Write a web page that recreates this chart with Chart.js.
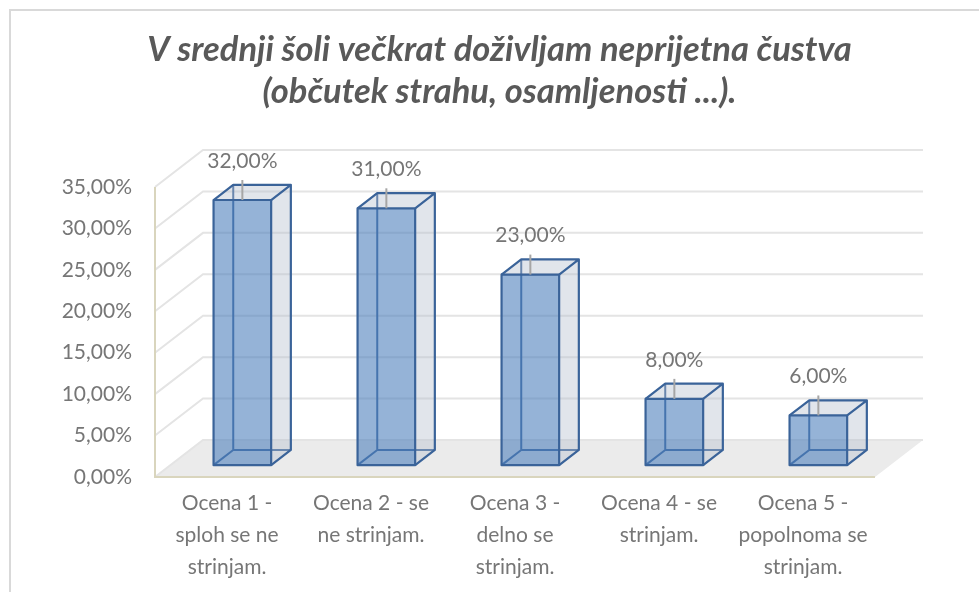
<!DOCTYPE html>
<html>
<head>
<meta charset="utf-8">
<script src="https://cdn.jsdelivr.net/npm/chart.js@4.4.0/dist/chart.umd.min.js"></script>
<style>
  html, body { margin: 0; padding: 0; background: #fff; overflow: hidden; }
  #wrap { position: relative; width: 979px; height: 592px; }
  #okvir { position: absolute; left: 9px; top: 9px; width: 1100px; height: 700px; border: 2px solid #d9d9d9; }
  canvas { position: absolute; left: 0; top: 0; }
</style>
</head>
<body>
<div id="wrap">
  <div id="okvir"></div>
  <canvas id="canvas" width="979" height="592"></canvas>
</div>
<script>
/* podatki */
var naslov = ['V srednji šoli večkrat doživljam neprijetna čustva', '(občutek strahu, osamljenosti ...).'];
var kategorije = [
  ['Ocena 1 -', 'sploh se ne', 'strinjam.'],
  ['Ocena 2 - se', 'ne strinjam.'],
  ['Ocena 3 -', 'delno se', 'strinjam.'],
  ['Ocena 4 - se', 'strinjam.'],
  ['Ocena 5 -', 'popolnoma se', 'strinjam.']
];
var odstotki = [32, 31, 23, 8, 6];
var osMin = 0, osMax = 35, osKorak = 5;

function procent(v) {
  return Number(v).toFixed(2).replace('.', ',') + '%';
}

/* 3D izgled (kot v Excelu) */
var globina = { dx: 48, dy: -37, spredaj: 0.32, zadaj: 0.73 };

var plugin3d = {
  id: 'plugin3d',
  beforeDatasetsDraw: function(chart) {
    var ctx = chart.ctx, a = chart.chartArea, y = chart.scales.y;
    var L = a.left, R = a.right, B = a.bottom, dx = globina.dx, dy = globina.dy;
    ctx.save();
    // tla
    ctx.fillStyle = '#ebebeb';
    ctx.beginPath();
    ctx.moveTo(L, B); ctx.lineTo(R, B); ctx.lineTo(R + dx, B + dy); ctx.lineTo(L + dx, B + dy);
    ctx.closePath(); ctx.fill();
    // mreza na stenah
    ctx.strokeStyle = '#e4e4e4'; ctx.lineWidth = 2;
    y.ticks.forEach(function(t) {
      var py = y.getPixelForValue(t.value);
      ctx.beginPath();
      ctx.moveTo(L, py); ctx.lineTo(L + dx, py + dy); ctx.lineTo(R + dx, py + dy);
      ctx.stroke();
    });
    // osi
    ctx.strokeStyle = '#d9d5bd'; ctx.lineWidth = 2;
    ctx.beginPath();
    ctx.moveTo(L, a.top); ctx.lineTo(L, B); ctx.lineTo(R, B);
    ctx.stroke();
    ctx.restore();
  },
  afterDatasetsDraw: function(chart) {
    var ctx = chart.ctx, meta = chart.getDatasetMeta(0);
    var dx = globina.dx, dy = globina.dy;
    var fx = dx * globina.spredaj, fy = dy * globina.spredaj;
    var bx = dx * (globina.zadaj - globina.spredaj), by = dy * (globina.zadaj - globina.spredaj);
    ctx.save();
    ctx.lineJoin = 'round';
    meta.data.forEach(function(el, i) {
      var p = el.getProps(['x', 'y', 'base', 'width'], true);
      var x0 = p.x - p.width / 2 + fx, x1 = p.x + p.width / 2 + fx;
      var yT = p.y + fy, yB = p.base + fy;

      // skriti robovi
      ctx.strokeStyle = '#3a6399'; ctx.lineWidth = 2;
      ctx.beginPath();
      ctx.moveTo(x0 + bx, yT + by); ctx.lineTo(x0 + bx, yB + by); ctx.lineTo(x1 + bx, yB + by);
      ctx.moveTo(x0, yB); ctx.lineTo(x0 + bx, yB + by);
      ctx.stroke();

      // desna in zgornja ploskev
      ctx.fillStyle = 'rgba(180,190,205,0.4)';
      ctx.beginPath();
      ctx.moveTo(x1, yT); ctx.lineTo(x1 + bx, yT + by); ctx.lineTo(x1 + bx, yB + by); ctx.lineTo(x1, yB);
      ctx.closePath(); ctx.fill();
      ctx.beginPath();
      ctx.moveTo(x0, yT); ctx.lineTo(x1, yT); ctx.lineTo(x1 + bx, yT + by); ctx.lineTo(x0 + bx, yT + by);
      ctx.closePath(); ctx.fill();

      // sprednja ploskev
      ctx.fillStyle = 'rgba(79,129,189,0.6)';
      ctx.fillRect(x0, yT, x1 - x0, yB - yT);

      // vidni robovi
      ctx.strokeStyle = '#3a6399'; ctx.lineWidth = 2.2;
      ctx.strokeRect(x0, yT, x1 - x0, yB - yT);
      ctx.beginPath();
      ctx.moveTo(x0, yT); ctx.lineTo(x0 + bx, yT + by); ctx.lineTo(x1 + bx, yT + by); ctx.lineTo(x1, yT);
      ctx.moveTo(x1 + bx, yT + by); ctx.lineTo(x1 + bx, yB + by); ctx.lineTo(x1, yB);
      ctx.stroke();

      // oznaka podatka s crto
      var lx = p.x + fx, ly = yT - 39;
      ctx.strokeStyle = '#a6a6a6'; ctx.lineWidth = 2;
      ctx.beginPath();
      ctx.moveTo(lx, ly + 19); ctx.lineTo(lx, yT);
      ctx.stroke();
      ctx.fillStyle = '#767676';
      ctx.font = '21px Lato';
      ctx.textAlign = 'center'; ctx.textBaseline = 'middle';
      ctx.fillText(procent(odstotki[i]), lx, ly);
    });
    ctx.restore();
  }
};

Chart.defaults.font.family = 'Lato';

const ctx = document.getElementById('canvas');
new Chart(ctx, {
  type: 'bar',
  data: {
    labels: kategorije,
    datasets: [{
      data: odstotki,
      backgroundColor: 'rgba(0,0,0,0)',
      borderWidth: 0,
      barPercentage: 0.4,
      categoryPercentage: 1
    }]
  },
  options: {
    responsive: false,
    animation: false,
    layout: { padding: { left: 20, right: 0, top: 0, bottom: 0 } },
    plugins: {
      legend: { display: false },
      tooltip: { enabled: false },
      title: {
        display: true,
        text: naslov,
        color: '#595959',
        font: { size: 34.5, weight: 'bold', style: 'italic', lineHeight: 42 / 34.5 },
        padding: { top: 29, bottom: 74 }
      }
    },
    scales: {
      x: {
        grid: { display: false, drawTicks: false },
        border: { display: false },
        ticks: { color: '#767676', font: { size: 21, lineHeight: 32 / 21 }, padding: 10, maxRotation: 0, autoSkip: false },
        afterFit: function(s) { s.height = 115; }
      },
      y: {
        min: osMin,
        max: osMax,
        grid: { display: false, drawTicks: false },
        border: { display: false },
        ticks: { stepSize: osKorak, color: '#767676', font: { size: 21 }, padding: 23, callback: function(v) { return procent(v); } },
        afterFit: function(s) { s.width = 135; }
      },
      desno: {
        type: 'linear',
        position: 'right',
        grid: { display: false, drawTicks: false },
        border: { display: false },
        ticks: { display: false },
        afterFit: function(s) { s.width = 104; }
      }
    }
  },
  plugins: [plugin3d]
});
</script>
</body>
</html>
